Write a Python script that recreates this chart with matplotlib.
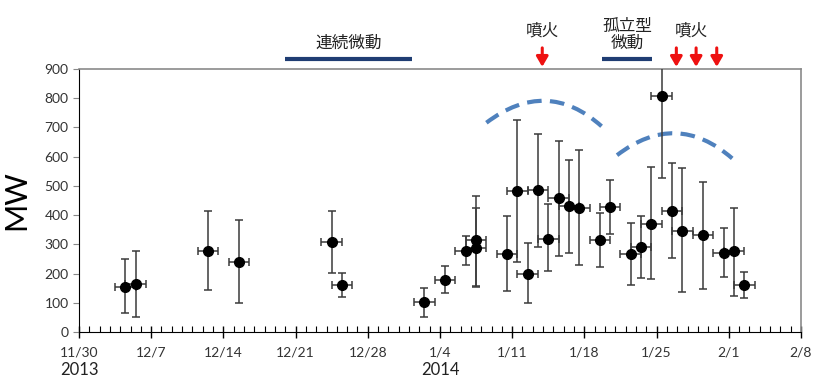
import matplotlib
matplotlib.use("Agg")
import matplotlib.pyplot as plt
import matplotlib.dates as mdates
from matplotlib.path import Path
from matplotlib.patches import PathPatch
import matplotlib.transforms as mtransforms
import pandas as pd

plt.rcParams['font.family'] = ['Lato', 'Noto Sans CJK JP', 'DejaVu Sans']

# 観測日 (正午)
dates = ["2013-12-04", "2013-12-05", "2013-12-12", "2013-12-15", "2013-12-24",
         "2013-12-25", "2014-01-02", "2014-01-04", "2014-01-06", "2014-01-07",
         "2014-01-07", "2014-01-10", "2014-01-11", "2014-01-12", "2014-01-13",
         "2014-01-14", "2014-01-15", "2014-01-16", "2014-01-17", "2014-01-19",
         "2014-01-20", "2014-01-22", "2014-01-23", "2014-01-24", "2014-01-25",
         "2014-01-26", "2014-01-27", "2014-01-29", "2014-01-31", "2014-02-01",
         "2014-02-02"]
mw = [155, 166, 278, 239, 309, 160, 102, 179, 276, 315, 288, 266, 483, 198, 486,
      320, 457, 431, 425, 315, 427, 266, 292, 369, 809, 415, 346, 331, 271, 277, 162]
mw_hi = [250, 278, 415, 383, 415, 201, 149, 227, 328, 464, 425, 397, 725, 303, 677,
         438, 654, 587, 622, 406, 519, 374, 398, 565, 1090, 577, 560, 514, 357, 426, 206]
mw_lo = [64, 52, 144, 98, 201, 119, 52, 134, 228, 158, 155, 140, 238, 98, 292,
         208, 260, 272, 228, 221, 334, 161, 186, 180, 526, 252, 136, 147, 188, 124, 115]
day_err = 1.0

# 破線の弧 (始点, 頂点, 終点)
arcs = [[("2014-01-08 12:00", 716), ("2014-01-14 08:00", 791), ("2014-01-19 16:00", 704)],
        [("2014-01-21 04:00", 605), ("2014-01-26 22:00", 680), ("2014-02-01 08:00", 594)]]

tremor_bars = [("2013-12-20 00:00", "2014-01-01 08:00", "連続微動"),
               ("2014-01-19 16:00", "2014-01-24 14:00", "孤立型\n微動")]
eruption_labels = [("2014-01-13 22:00", "噴火"), ("2014-01-28 10:00", "噴火")]
eruption_arrows = ["2014-01-13 22:00", "2014-01-26 22:00", "2014-01-28 20:00",
                   "2014-01-30 20:00"]

tick_dates = pd.date_range("2013-11-30", "2014-02-08", freq="7D")
tick_labels = ["11/30", "12/7", "12/14", "12/21", "12/28", "1/4", "1/11",
               "1/18", "1/25", "2/1", "2/8"]
year_labels = [("2013-11-30", "2013"), ("2014-01-04", "2014")]


def dn(d):
    return mdates.date2num(pd.Timestamp(d))


x = pd.to_datetime(dates) + pd.Timedelta(hours=12)
yerr = [[v - lo for v, lo in zip(mw, mw_lo)], [hi - v for v, hi in zip(mw, mw_hi)]]

fig = plt.figure(figsize=(8.14, 3.83), dpi=100)
ax = fig.add_axes([0.097, 0.133, 0.887, 0.687])

ax.errorbar(x, mw, yerr=yerr, xerr=pd.Timedelta(days=day_err), fmt='o',
            color='black', ms=7, ecolor='#3a3a3a', elinewidth=1.1, capsize=3,
            capthick=1.1, zorder=3)

for arc in arcs:
    (d0, y0), (d1, y1), (d2, y2) = arc
    x0, x1, x2 = dn(d0), dn(d1), dn(d2)
    ctrl = (x1, 2 * y1 - (y0 + y2) / 2)
    path = Path([(x0, y0), ctrl, (x2, y2)], [Path.MOVETO, Path.CURVE3, Path.CURVE3])
    ax.add_patch(PathPatch(path, fill=False, edgecolor='#4f81bd', lw=3,
                           linestyle=(0, (3.5, 2)), zorder=2))

ax.set_ylim(0, 900)
ax.set_yticks(range(0, 901, 100))
ax.set_xlim(dn("2013-11-30"), dn("2014-02-08"))
ax.set_xticks([dn(t) for t in tick_dates])
ax.set_xticklabels(tick_labels, fontsize=10, color='#333333')
ax.xaxis.set_minor_locator(mdates.DayLocator())
ax.tick_params(axis='x', which='major', direction='inout', length=9, width=1, pad=6)
ax.tick_params(axis='x', which='minor', direction='in', length=4, width=0.8)
ax.tick_params(axis='y', direction='out', length=4, color='#888888',
               labelsize=10, labelcolor='#333333')
ax.set_ylabel("MW", fontsize=22, labelpad=10)

for side in ('top', 'right'):
    ax.spines[side].set_color('#8a8a8a')
    ax.spines[side].set_linewidth(1.2)
ax.spines['left'].set_color('black')
ax.spines['bottom'].set_color('black')

trans = mtransforms.blended_transform_factory(ax.transData, ax.transAxes)

for d, label in year_labels:
    ax.text(dn(d), -0.115, label, transform=trans, ha='center',
            va='top', fontsize=12, color='#222222')

for d0, d1, label in tremor_bars:
    t0, t1 = dn(d0), dn(d1)
    ax.plot([t0, t1], [1.038, 1.038], transform=trans, color='#1f3d73', lw=3,
            clip_on=False, solid_capstyle='butt')
    ax.text((t0 + t1) / 2, 1.065, label, transform=trans, ha='center', va='bottom',
            fontsize=12, color='#222222', linespacing=1.0,
            family=['Noto Sans CJK JP'])

for d, label in eruption_labels:
    ax.text(dn(d), 1.11, label, transform=trans, ha='center',
            va='bottom', fontsize=12, color='#222222', family=['Noto Sans CJK JP'])

for d in eruption_arrows:
    t = dn(d)
    ax.annotate("", xy=(t, 1.008), xytext=(t, 1.08), xycoords=trans,
                textcoords=trans,
                arrowprops=dict(arrowstyle='-|>,head_width=0.35,head_length=0.6',
                                color='#ee1111', lw=2.2, shrinkA=0, shrinkB=0))

fig.savefig("out.png", dpi=100)
